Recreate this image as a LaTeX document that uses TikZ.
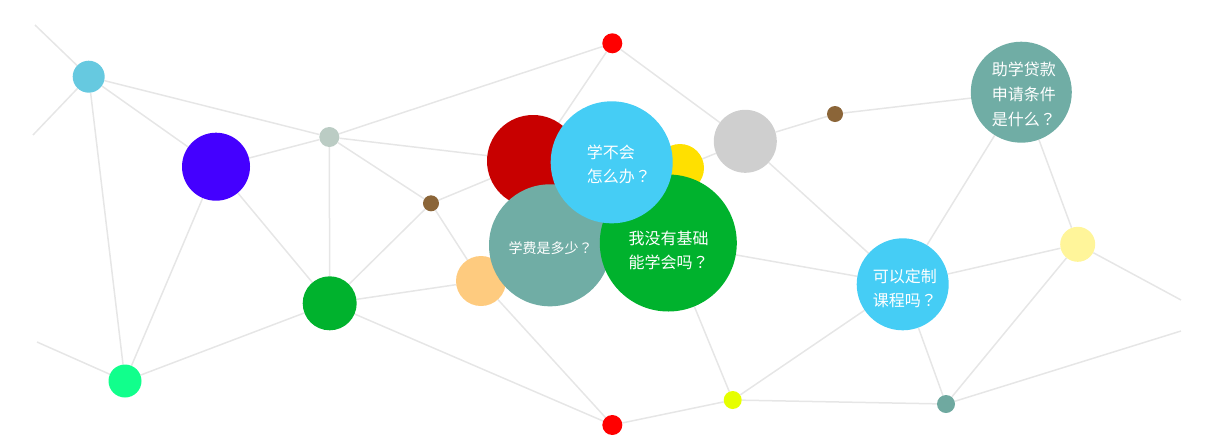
\documentclass[tikz,border=0pt]{standalone}
\usepackage{fontspec}
\newfontfamily\cjk{Noto Sans CJK SC}
\newfontfamily\cjkq{Noto Sans CJK TC}
\newcommand{\qm}{{\cjkq ？}}
\usetikzlibrary{backgrounds}
\definecolor{lk}{HTML}{E6E6E6}
\definecolor{cA}{HTML}{66C9E0}
\definecolor{cB}{HTML}{4400FF}
\definecolor{cC}{HTML}{BBCCC4}
\definecolor{cGreen}{HTML}{00B22D}
\definecolor{cE}{HTML}{11FF8C}
\definecolor{cBrown}{HTML}{8B6538}
\definecolor{cRed}{HTML}{FF0000}
\definecolor{cDark}{HTML}{C80000}
\definecolor{cSky}{HTML}{45CDF5}
\definecolor{cYel}{HTML}{FFE000}
\definecolor{cTeal}{HTML}{70ADA5}
\definecolor{cOr}{HTML}{FECB7F}
\definecolor{cGray}{HTML}{CFCFCF}
\definecolor{cLime}{HTML}{E6FF00}
\definecolor{cPale}{HTML}{FFF59A}
\definecolor{cU}{HTML}{6FA9A0}
\begin{document}
\begin{tikzpicture}[x=1pt,y=-1pt,
  dot/.style={circle,inner sep=0pt,draw=none},
  link/.style={draw=lk,line width=1.5pt},
  qtext/.style={text=white,font=\cjk\fontsize{16}{24}\selectfont,align=left,inner sep=0pt,anchor=west}]
\useasboundingbox (0,0) rectangle (1231,437);
% small and medium dots
\node[dot,fill=cA,minimum size=32pt] (A) at (88.7,76.7) {};
\node[dot,fill=cB,minimum size=68pt] (B) at (216,166.7) {};
\node[dot,fill=cC,minimum size=20pt] (C) at (329.3,137) {};
\node[dot,fill=cGreen,minimum size=54pt] (D) at (329.7,303.3) {};
\node[dot,fill=cE,minimum size=33pt] (E) at (125,381) {};
\node[dot,fill=cBrown,minimum size=16pt] (F) at (431,203.3) {};
\node[dot,fill=cRed,minimum size=20pt] (G) at (612.3,43.3) {};
\node[dot,fill=cGray,minimum size=63pt] (N) at (745.3,141.3) {};
\node[dot,fill=cBrown,minimum size=16pt] (O) at (835,114) {};
\node[dot,fill=cLime,minimum size=18pt] (P) at (732.7,400) {};
\node[dot,fill=cRed,minimum size=20pt] (Q) at (612.3,425) {};
\node[dot,fill=cTeal,minimum size=101pt] (R) at (1021.3,92.2) {};
\node[dot,fill=cSky,minimum size=92pt] (S) at (902.7,284.3) {};
\node[dot,fill=cPale,minimum size=35pt] (T) at (1077.7,244.3) {};
\node[dot,fill=cU,minimum size=18pt] (U) at (946,404) {};
% central cluster
\node[dot,fill=cDark,minimum size=92pt] (H) at (533,161) {};
\node[dot,fill=cOr,minimum size=50pt] (M) at (481,281) {};
\node[dot,fill=cYel,minimum size=48pt] (J) at (680,168) {};
\node[dot,fill=cTeal,minimum size=122pt] (K) at (550,245.3) {};
\node[dot,fill=cGreen,minimum size=137pt] (L) at (668.3,243) {};
\node[dot,fill=cSky,minimum size=122pt] (I) at (611.7,162.3) {};
% texts
\node[qtext] (tI) at (586.7,164.7) {学不会\\怎么办\qm};
\node[qtext,font=\cjk\fontsize{14}{20}\selectfont] (tK) at (508.3,248) {学费是多少\qm};
\node[qtext] (tL) at (628.3,250) {我没有基础\\能学会吗\qm};
\node[qtext,font=\cjk\fontsize{16}{25}\selectfont] (tR) at (991.7,94.2) {助学贷款\\申请条件\\是什么\qm};
\node[qtext] (tS) at (872.7,288) {可以定制\\课程吗\qm};
% free ends
\coordinate (a1) at (35,25);
\coordinate (a2) at (33,135);
\coordinate (e1) at (37,342);
\coordinate (t1) at (1181,300);
\coordinate (u1) at (1181,331);
\begin{pgfonlayer}{background}
\draw[link] (A) -- (a1);
\draw[link] (A) -- (a2);
\draw[link] (A) -- (C);
\draw[link] (A) -- (B);
\draw[link] (A) -- (E);
\draw[link] (B) -- (C);
\draw[link] (B) -- (E);
\draw[link] (B) -- (D);
\draw[link] (C) -- (D);
\draw[link] (C) -- (F);
\draw[link] (C) -- (G);
\draw[link] (C) -- (H);
\draw[link] (D) -- (E);
\draw[link] (D) -- (F);
\draw[link] (D) -- (M);
\draw[link] (D) -- (Q);
\draw[link] (E) -- (e1);
\draw[link] (F) -- (H);
\draw[link] (F) -- (M);
\draw[link] (G) -- (H);
\draw[link] (G) -- (N);
\draw[link] (M) -- (Q);
\draw[link] (Q) -- (P);
\draw[link] (P) -- (L);
\draw[link] (P) -- (S);
\draw[link] (P) -- (U);
\draw[link] (L) -- (S);
\draw[link] (N) -- (O);
\draw[link] (J) -- (N);
\draw[link] (N) -- (S);
\draw[link] (O) -- (R);
\draw[link] (R) -- (S);
\draw[link] (R) -- (T);
\draw[link] (S) -- (T);
\draw[link] (S) -- (U);
\draw[link] (T) -- (U);
\draw[link] (T) -- (t1);
\draw[link] (U) -- (u1);
\end{pgfonlayer}
\end{tikzpicture}
\end{document}
